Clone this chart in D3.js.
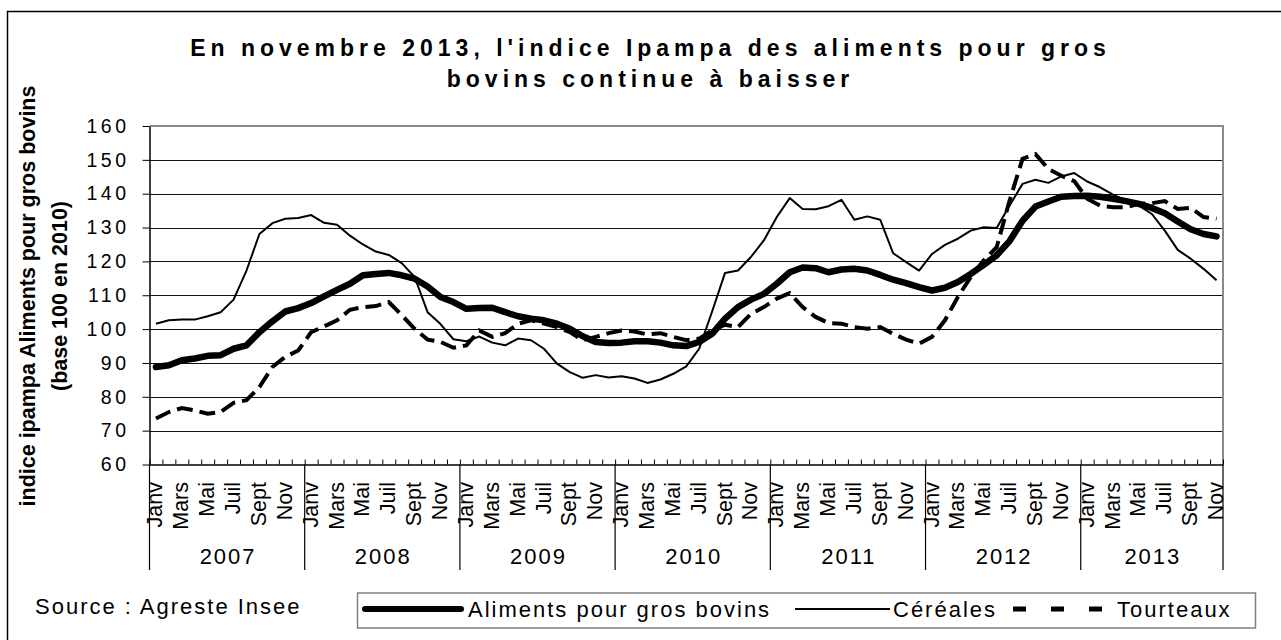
<!DOCTYPE html>
<html>
<head>
<meta charset="utf-8">
<script src="https://cdn.jsdelivr.net/npm/d3@7"></script>
<style>
  body { margin: 0; background: #fff; }
  text { font-family: "Liberation Sans", Arial, sans-serif; fill: #000; }
</style>
</head>
<body>
<svg id="chart" width="1281" height="640"></svg>
<script>
// Data (monthly, Janv 2007 -> Nov 2013)
var years = [2007, 2008, 2009, 2010, 2011, 2012, 2013];
var monthNames = ["Janv", "Févr", "Mars", "Avr", "Mai", "Juin", "Juil", "Août", "Sept", "Oct", "Nov", "Déc"];
var yTicks = [60, 70, 80, 90, 100, 110, 120, 130, 140, 150, 160];

var aliments = [
  88.8, 89.3, 90.8, 91.3, 92.1, 92.3, 94.2, 95.2, 99.1, 102.3, 105.2, 106.2,
  107.7, 109.7, 111.6, 113.4, 115.9, 116.3, 116.6, 115.9, 114.9, 112.6, 109.5, 108.0,
  106.0, 106.2, 106.3, 105.0, 103.8, 103.1, 102.6, 101.6, 100.1, 97.9, 96.2, 95.9,
  96.0, 96.4, 96.4, 96.0, 95.2, 95.0, 96.2, 98.6, 103.1, 106.5, 108.7, 110.4,
  113.4, 116.8, 118.2, 118.0, 116.8, 117.6, 117.8, 117.3, 116.0, 114.6, 113.6, 112.4,
  111.4, 112.2, 113.9, 116.3, 119.0, 121.8, 126.0, 132.0, 136.2, 137.7, 139.1, 139.3,
  139.4, 139.1, 138.5, 137.8, 137.0, 135.8, 134.2, 131.8, 129.5, 128.1, 127.4
];
var cereales = [
  101.6, 102.6, 102.8, 102.8, 103.8, 105.0, 108.7, 117.3, 128.1, 131.3, 132.6, 132.8,
  133.7, 131.4, 130.8, 127.6, 125.0, 122.9, 121.9, 119.5, 115.4, 105.0, 101.5, 97.0,
  96.4, 97.8, 96.0, 95.2, 97.2, 96.7, 94.2, 89.8, 87.3, 85.6, 86.4, 85.7,
  86.1, 85.4, 84.1, 85.1, 86.8, 89.0, 94.2, 105.2, 116.6, 117.3, 121.3, 126.2,
  133.1, 138.7, 135.5, 135.4, 136.3, 138.2, 132.3, 133.3, 132.3, 122.4, 119.8, 117.3,
  122.2, 124.9, 126.7, 129.1, 130.1, 129.9, 136.5, 142.9, 144.1, 143.2, 145.1, 146.1,
  143.6, 141.9, 139.7, 138.0, 136.5, 134.0, 129.1, 123.4, 120.8, 117.8, 114.4
];
var tourteaux = [
  73.6, 75.5, 76.7, 76.0, 75.0, 75.5, 78.2, 79.0, 82.9, 88.8, 91.8, 93.7,
  99.1, 100.8, 102.6, 105.7, 106.5, 106.8, 108.0, 104.1, 100.1, 96.9, 96.2, 94.5,
  95.2, 99.6, 97.7, 98.8, 101.6, 102.6, 101.6, 100.6, 99.1, 96.7, 97.7, 98.8,
  99.6, 99.3, 98.4, 98.8, 97.7, 96.7, 97.2, 99.6, 101.3, 100.6, 104.5, 106.5,
  109.0, 110.6, 106.5, 103.6, 101.8, 101.6, 100.6, 100.1, 100.6, 98.6, 96.9, 95.7,
  97.7, 102.6, 109.5, 115.4, 120.3, 124.2, 138.0, 150.3, 151.7, 147.3, 145.3, 143.7,
  138.5, 136.5, 136.0, 136.0, 137.0, 137.2, 137.8, 135.5, 135.8, 133.1, 132.6
];

var chart = { svg: d3.select("#chart"), left: 149.5, right: 1223, top: 126, bottom: 464.5 };
var n = aliments.length;

var x = d3.scaleBand().domain(d3.range(n)).range([chart.left, chart.right]);
var xb = d3.scaleLinear().domain([0, n]).range([chart.left, chart.right]);
var y = d3.scaleLinear().domain([60, 160]).range([chart.bottom, chart.top]);
var bw = x.bandwidth();

// outer frame (only left/top visible)
chart.svg.append("rect")
  .attr("x", 7.5).attr("y", 11.5).attr("width", 1400).attr("height", 800)
  .style("fill", "none").style("stroke", "#000").style("stroke-width", 1.5);

// Title
var title = chart.svg.append("text")
  .attr("text-anchor", "middle")
  .style("font-size", "23px").style("font-weight", "bold").style("letter-spacing", "5px");
title.append("tspan").attr("x", 650.5).attr("y", 56).text("En novembre 2013, l'indice Ipampa des aliments pour gros");
title.append("tspan").attr("x", 650.5).attr("y", 87).text("bovins continue à baisser");

// Y title
var ytitle = chart.svg.append("g").attr("transform", "translate(0,296) rotate(-90)");
ytitle.append("text").attr("x", 0).attr("y", 35).attr("text-anchor", "middle")
  .style("font-size", "21.5px").style("font-weight", "bold")
  .text("indice ipampa Aliments pour gros bovins");
ytitle.append("text").attr("x", 0).attr("y", 67).attr("text-anchor", "middle")
  .style("font-size", "21.5px").style("font-weight", "bold")
  .text("(base 100 en 2010)");

// Grid
chart.svg.append("g").selectAll("line.grid")
  .data(yTicks.filter(function(d) { return d > 60 && d < 160; }))
  .enter().append("line")
  .attr("class", "grid")
  .attr("x1", chart.left).attr("x2", chart.right)
  .attr("y1", function(d) { return Math.round(y(d)) + 0.5; })
  .attr("y2", function(d) { return Math.round(y(d)) + 0.5; })
  .style("stroke", "#111").style("stroke-width", 1);

// plot border top/right (grey)
chart.svg.append("path")
  .attr("d", "M" + chart.left + "," + y(160) + "H" + chart.right + "V" + chart.bottom)
  .style("fill", "none").style("stroke", "#8a8a8a").style("stroke-width", 2);

// Axis Y
var yAxis = chart.svg.append("g")
  .attr("transform", "translate(" + chart.left + ",0)")
  .call(d3.axisLeft(y).tickValues(yTicks).tickSize(7).tickSizeOuter(0).tickPadding(13));
yAxis.select(".domain").style("stroke", "#000").style("stroke-width", 1.5);
yAxis.selectAll(".tick line").style("stroke", "#000");
yAxis.selectAll("text").attr("font-family", null).attr("font-size", null)
  .style("font-size", "19.5px").style("letter-spacing", "3.5px");

// Axis X (month ticks pointing up)
var xAxis = chart.svg.append("g")
  .attr("transform", "translate(0," + chart.bottom + ")")
  .call(d3.axisTop(xb).tickValues(d3.range(n + 1)).tickSize(5).tickSizeOuter(0).tickFormat(""));
xAxis.select(".domain").style("stroke", "#000").style("stroke-width", 1.5);
xAxis.selectAll(".tick line").style("stroke", "#000");

// month labels (every other month)
chart.svg.append("g").selectAll("text.month")
  .data(d3.range(n).filter(function(i) { return i % 2 === 0; }))
  .enter().append("text")
  .attr("class", "month")
  .attr("transform", function(i) { return "translate(" + (x(i) + bw / 2 - 1) + ",482) rotate(-90)"; })
  .attr("dy", "0.35em")
  .attr("text-anchor", "end")
  .style("font-size", "21.5px")
  .text(function(i) { return monthNames[i % 12]; });

// year separators + labels
var yearStarts = years.map(function(yr, k) { return k * 12; }).concat([n]);
chart.svg.append("g").selectAll("line.year")
  .data(yearStarts).enter().append("line")
  .attr("class", "year")
  .attr("x1", function(i) { return xb(i); }).attr("x2", function(i) { return xb(i); })
  .attr("y1", chart.bottom).attr("y2", 570)
  .style("stroke", "#000").style("stroke-width", 1.2);

chart.svg.append("g").selectAll("text.year")
  .data(years).enter().append("text")
  .attr("class", "year")
  .attr("x", function(yr, k) { return (xb(k * 12) + xb(Math.min((k + 1) * 12, n))) / 2 + 1; })
  .attr("y", 564)
  .attr("text-anchor", "middle")
  .style("font-size", "22px").style("letter-spacing", "2px")
  .text(function(yr) { return yr; });

// Lines
var line = d3.line()
  .x(function(d, i) { return x(i) + bw / 2; })
  .y(function(d) { return y(d); });

chart.svg.append("path").datum(aliments)
  .attr("d", line)
  .style("fill", "none").style("stroke", "#000").style("stroke-width", 6.5)
  .style("stroke-linejoin", "round").style("stroke-linecap", "round");

chart.svg.append("path").datum(cereales)
  .attr("d", line)
  .style("fill", "none").style("stroke", "#000").style("stroke-width", 2)
  .style("stroke-linejoin", "round");

chart.svg.append("path").datum(tourteaux)
  .attr("d", line)
  .style("fill", "none").style("stroke", "#000").style("stroke-width", 4)
  .style("stroke-dasharray", "16,7");

// Source
chart.svg.append("text")
  .attr("x", 35).attr("y", 614)
  .style("font-size", "22px").style("letter-spacing", "2px")
  .text("Source : Agreste Insee");

// Legend
var legend = chart.svg.append("g");
legend.append("rect")
  .attr("x", 357.5).attr("y", 593).attr("width", 898).attr("height", 35)
  .style("fill", "none").style("stroke", "#808080").style("stroke-width", 1.5);

var legendItems = [
  { name: "Aliments pour gros bovins", x1: 365, x2: 461, tx: 468, w: 6, dash: null, cap: "round" },
  { name: "Céréales", x1: 795, x2: 890, tx: 893, w: 2, dash: null, cap: "butt" },
  { name: "Tourteaux", x1: 1013, x2: 1103, tx: 1117, w: 5, dash: "13,25", cap: "butt" }
];
legendItems.forEach(function(d) {
  legend.append("line")
    .attr("x1", d.x1).attr("x2", d.x2).attr("y1", 609).attr("y2", 609)
    .style("stroke", "#000").style("stroke-width", d.w)
    .style("stroke-linecap", d.cap)
    .style("stroke-dasharray", d.dash);
  legend.append("text")
    .attr("x", d.tx).attr("y", 617)
    .style("font-size", "22px").style("letter-spacing", "2px")
    .text(d.name);
});
</script>
</body>
</html>
